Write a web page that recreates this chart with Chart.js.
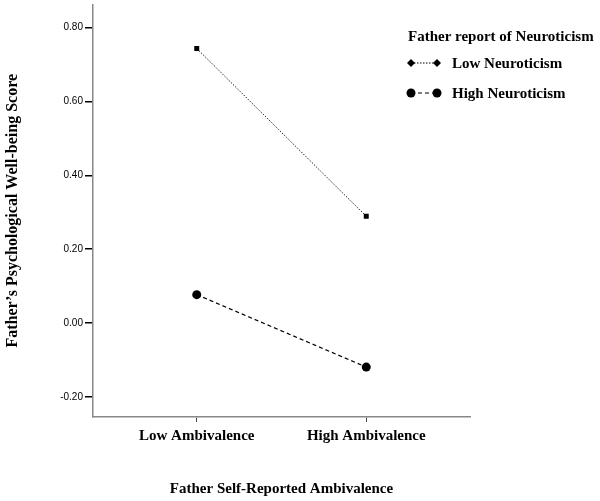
<!DOCTYPE html>
<html>
<head>
<meta charset="utf-8">
<script src="https://cdn.jsdelivr.net/npm/chart.js@4.4.1/dist/chart.umd.min.js"></script>
<style>
  html, body { margin: 0; padding: 0; background: #fff; }
  #wrap { width: 600px; height: 501px; position: relative; }
</style>
</head>
<body>
<div id="wrap"><canvas id="interaction-chart"></canvas></div>
<script>
// values
var categories = ['Low Ambivalence', 'High Ambivalence'];
var lowNeuro = [0.743, 0.289];
var highNeuro = [0.077, -0.119];
var yTicks = [-0.20, 0.00, 0.20, 0.40, 0.60, 0.80];
var seriesNames = ['Low Neuroticism', 'High Neuroticism'];
var legendTitle = 'Father report of Neuroticism';

var serif = '"Liberation Serif", "Times New Roman", serif';
var sans = '"Liberation Sans", Arial, sans-serif';

function toPoints(vals) {
  return vals.map(function (v, i) { return { x: i, y: v }; });
}

// draw the legend box top right, over the plot like the original
var legendPlugin = {
  id: 'cornerLegend',
  afterDraw: function (chart) {
    var c = chart.ctx;
    c.save();
    c.fillStyle = '#000';
    c.textBaseline = 'middle';
    c.font = 'bold 15px ' + serif;
    c.fillText(legendTitle, 408, 37);
    var rows = [63, 93];
    chart.data.datasets.forEach(function (ds, i) {
      var y = rows[i];
      c.strokeStyle = '#000';
      c.lineWidth = 1;
      c.setLineDash(ds.borderDash);
      c.beginPath();
      c.moveTo(411, y);
      c.lineTo(437, y);
      c.stroke();
      c.setLineDash([]);
      c.fillStyle = '#000';
      [411, 437].forEach(function (x) {
        c.beginPath();
        if (i === 0) {
          c.moveTo(x, y - 4); c.lineTo(x + 4, y); c.lineTo(x, y + 4); c.lineTo(x - 4, y);
          c.closePath();
        } else {
          c.arc(x, y, 4.5, 0, Math.PI * 2);
        }
        c.fill();
      });
      c.font = 'bold 15px ' + serif;
      c.fillText(ds.label, 452, y + 1);
    });
    c.restore();
  }
};

var ctx = document.getElementById('interaction-chart');
var myChart = new Chart(ctx, {
  type: 'line',
  data: {
    datasets: [{
      label: seriesNames[0],
      data: toPoints(lowNeuro),
      borderColor: '#222',
      borderWidth: 1,
      borderDash: [1.5, 1.5],
      pointStyle: 'rect',
      pointRadius: 3.5,
      pointBackgroundColor: '#000',
      pointBorderColor: '#000',
      pointBorderWidth: 0
    }, {
      label: seriesNames[1],
      data: toPoints(highNeuro),
      borderColor: '#000',
      borderWidth: 1.2,
      borderDash: [4, 3],
      pointStyle: 'circle',
      pointRadius: 4.5,
      pointBackgroundColor: '#000',
      pointBorderColor: '#000',
      pointBorderWidth: 0
    }]
  },
  options: {
    responsive: true,
    maintainAspectRatio: false,
    animation: false,
    layout: { padding: { left: 3, right: 130, top: 3, bottom: 3 } },
    plugins: {
      legend: { display: false },
      tooltip: { enabled: false }
    },
    scales: {
      x: {
        type: 'linear',
        min: -0.612,
        max: 1.612,
        afterBuildTicks: function (scale) {
          scale.ticks = categories.map(function (c, i) { return { value: i }; });
        },
        ticks: {
          callback: function (v) { return categories[v]; },
          font: { family: serif, size: 15, weight: 'bold' },
          color: '#000',
          padding: 5,
          maxRotation: 0
        },
        grid: { drawOnChartArea: false, drawTicks: true, tickLength: 5, color: '#444', lineWidth: 1 },
        border: { color: '#888', width: 1.5 },
        title: {
          display: true,
          text: 'Father Self-Reported Ambivalence',
          font: { family: serif, size: 15, weight: 'bold' },
          color: '#000',
          padding: { top: 30, bottom: 0 }
        }
      },
      y: {
        min: -0.254,
        max: 0.862,
        afterBuildTicks: function (scale) {
          scale.ticks = yTicks.map(function (v) { return { value: v }; });
        },
        ticks: {
          callback: function (v) { return v.toFixed(2); },
          font: { family: sans, size: 10, lineHeight: 0.5 },
          color: '#000',
          padding: 2
        },
        grid: { drawOnChartArea: false, drawTicks: true, tickLength: 8, color: '#000', lineWidth: 1.5 },
        border: { color: '#888', width: 1.5 },
        title: {
          display: true,
          text: 'Father\u2019s Psychological Well-being Score',
          font: { family: serif, size: 16, weight: 'bold' },
          color: '#000',
          padding: { top: 0, bottom: 36 }
        }
      }
    }
  },
  plugins: [legendPlugin]
});
</script>
</body>
</html>
